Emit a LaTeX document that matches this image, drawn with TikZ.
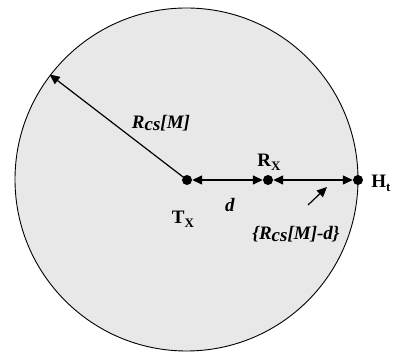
\documentclass[tikz,border=0pt]{standalone}
\usepackage{fontspec}
\setmainfont{Liberation Serif}
\usepackage{tikz}
\usetikzlibrary{arrows.meta,positioning,calc}
\definecolor{disk}{HTML}{E8E8E8}
\newcommand{\lowcs}[1]{\raisebox{-0.28ex}{#1}}
\newcommand{\smallsub}[1]{\raisebox{-0.45ex}{\fontsize{13}{15}\selectfont #1}}

\begin{document}
\begin{tikzpicture}[x=1pt,y=-1pt,>={Triangle[length=10pt,width=9pt]},
    dot/.style={circle,fill=black,inner sep=0pt,minimum size=10pt},
    lab/.style={font=\fontsize{19}{22}\selectfont\bfseries,inner sep=0pt}]
  \useasboundingbox (0,0) rectangle (397,352);
  \draw[fill=disk,line width=0.9pt] (186.5,179.5) circle[radius=171.5];
  % transmitter, receiver, hidden terminal
  \node[dot] (tx) at (187,180) {};
  \node[dot] (rx) at (268,180) {};
  \node[dot] (ht) at (358,180) {};
  \coordinate (rim) at ($(186.5,179.5)+(217.5:171.5)$);
  \draw[->,line width=1.2pt,shorten >=-1pt] (tx.center) -- (rim);
  \draw[<->,line width=1.4pt] (tx) -- (rx);
  \draw[<->,line width=1.4pt] (rx) -- (ht);
  \node[lab] (rcs) at (161,123) {\textit{R\lowcs{cs}[M]}};
  \node[lab] (dlab) at (230,205) {\textit{d}};
  \node[lab] (txlab) at (183,219) {T\smallsub{X}};
  \node[lab] (rxlab) at (269,162) {R\smallsub{X}};
  \node[lab] (htlab) at (381,183) {H\smallsub{t}};
  \node[lab] (rest) at (296,234) {\textit{\{R\lowcs{cs}[M]-d\}}};
  \coordinate (pt) at (327,187);
  \draw[->,line width=1.2pt] (308,205) -- (pt);
\end{tikzpicture}
\end{document}
